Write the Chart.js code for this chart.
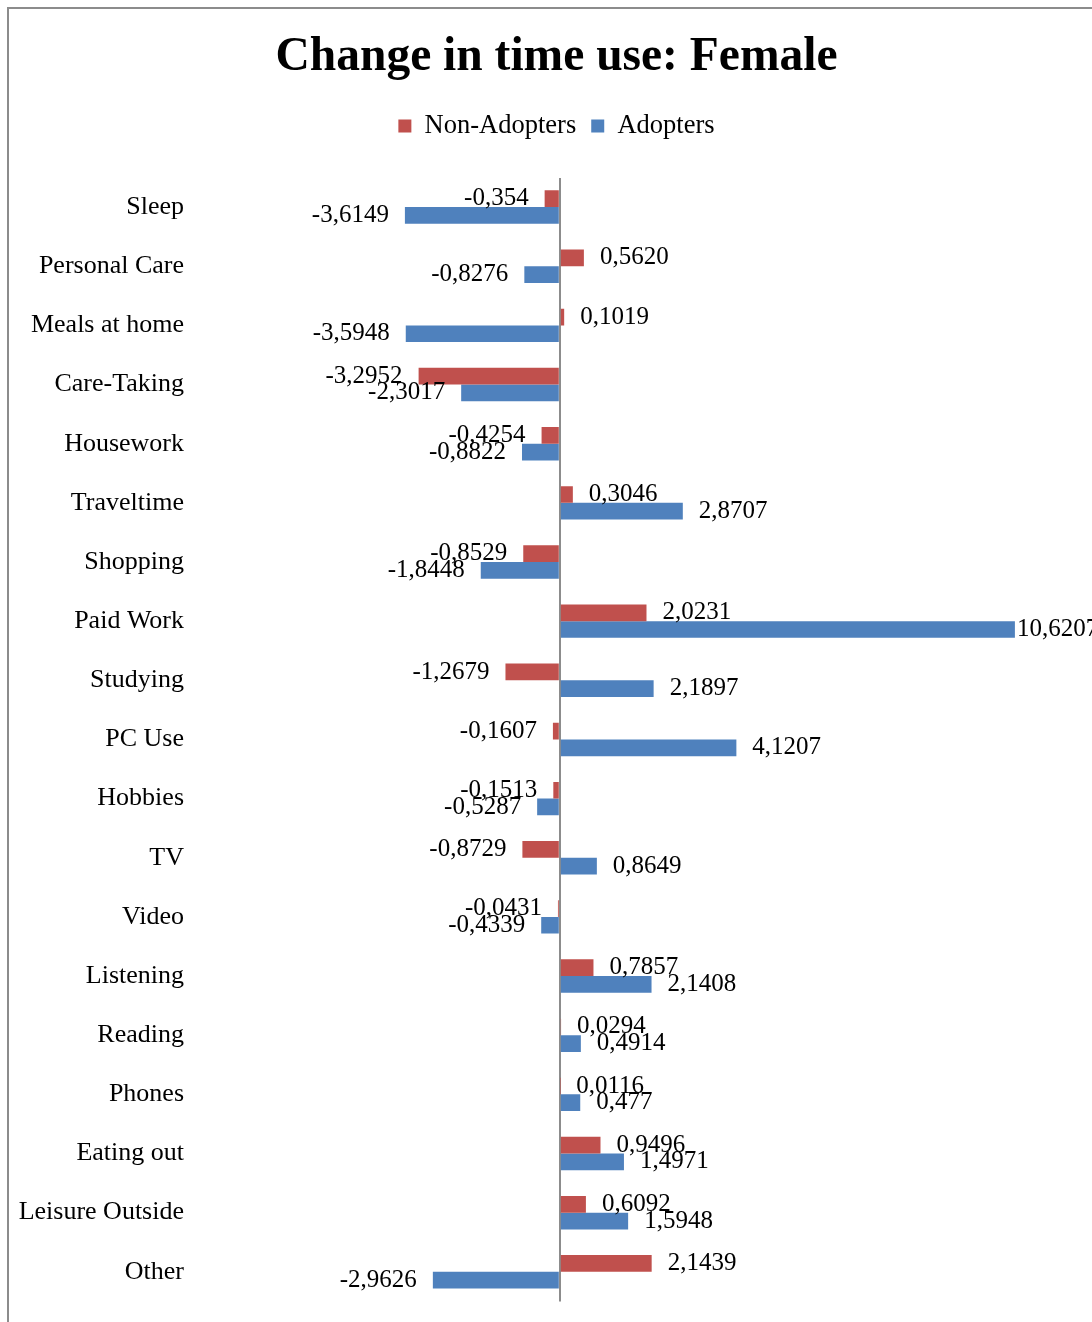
<!DOCTYPE html>
<html>
<head>
<meta charset="utf-8">
<script src="https://cdn.jsdelivr.net/npm/chart.js@4/dist/chart.umd.min.js"></script>
<style>
  html, body { margin: 0; padding: 0; background: #fff; overflow: hidden; }
  #frame {
    position: absolute; left: 7px; top: 7px;
    width: 1096px; height: 1350px;
    border-left: 2px solid #8c8c8c; border-top: 2px solid #8c8c8c;
  }
  #chart { display: block; }
</style>
</head>
<body>
<div id="frame"><canvas id="chart" width="1096" height="1341"></canvas></div>
<script>
const categories = [
  'Sleep', 'Personal Care', 'Meals at home', 'Care-Taking', 'Housework',
  'Traveltime', 'Shopping', 'Paid Work', 'Studying', 'PC Use', 'Hobbies',
  'TV', 'Video', 'Listening', 'Reading', 'Phones', 'Eating out',
  'Leisure Outside', 'Other'
];

// Values as printed on the bars (comma decimal separator)
const nonAdoptersText = [
  '-0,354', '0,5620', '0,1019', '-3,2952', '-0,4254', '0,3046', '-0,8529',
  '2,0231', '-1,2679', '-0,1607', '-0,1513', '-0,8729', '-0,0431', '0,7857',
  '0,0294', '0,0116', '0,9496', '0,6092', '2,1439'
];
const adoptersText = [
  '-3,6149', '-0,8276', '-3,5948', '-2,3017', '-0,8822', '2,8707', '-1,8448',
  '10,6207', '2,1897', '4,1207', '-0,5287', '0,8649', '-0,4339', '2,1408',
  '0,4914', '0,477', '1,4971', '1,5948', '-2,9626'
];

const toNumber = s => parseFloat(s.replace(',', '.'));
const nonAdopters = nonAdoptersText.map(toNumber);
const adopters = adoptersText.map(toNumber);

const serif = "'Liberation Serif', 'DejaVu Serif', serif";

// Writes each bar's value just past the end of the bar
const valueLabels = {
  id: 'valueLabels',
  afterDatasetsDraw(chart) {
    const ctx = chart.ctx;
    const area = chart.chartArea;
    const texts = [nonAdoptersText, adoptersText];
    ctx.save();
    ctx.font = '25px ' + serif;
    ctx.fillStyle = '#000';
    ctx.textBaseline = 'middle';
    chart.data.datasets.forEach((ds, di) => {
      const meta = chart.getDatasetMeta(di);
      meta.data.forEach((bar, i) => {
        const v = ds.data[i];
        const txt = texts[di][i];
        const w = ctx.measureText(txt).width;
        let gap = 16;
        if (v < 0) {
          ctx.textAlign = 'right';
          ctx.fillText(txt, bar.x - gap, bar.y);
        } else {
          if (bar.x + gap + w > area.right) gap = 2;
          ctx.textAlign = 'left';
          ctx.fillText(txt, bar.x + gap, bar.y);
        }
      });
    });
    ctx.restore();
  }
};

new Chart(document.getElementById('chart'), {
  type: 'bar',
  data: {
    labels: categories,
    datasets: [
      { label: 'Non-Adopters', data: nonAdopters, backgroundColor: '#C0504D',
        categoryPercentage: 0.565, barPercentage: 1 },
      { label: 'Adopters', data: adopters, backgroundColor: '#4F81BD',
        categoryPercentage: 0.565, barPercentage: 1 }
    ]
  },
  options: {
    indexAxis: 'y',
    responsive: false,
    animation: false,
    layout: { padding: { left: 0, right: 1, top: 0, bottom: 22.5 } },
    plugins: {
      title: {
        display: true,
        text: 'Change in time use: Female',
        color: '#000',
        font: { family: serif, size: 47.5, weight: 'bold', lineHeight: 1.2 },
        padding: { top: 20, bottom: 11.75 }
      },
      legend: {
        display: true,
        position: 'top',
        labels: {
          color: '#000',
          boxWidth: 13,
          boxHeight: 13,
          padding: 15,
          font: { family: serif, size: 26.5 }
        }
      },
      tooltip: { enabled: false }
    },
    scales: {
      x: {
        position: 'top',
        min: -8,
        max: 12.7,
        ticks: { display: false, stepSize: 2 },
        border: { display: false },
        grid: {
          drawTicks: false,
          lineWidth: 2,
          color: c => (c.tick && c.tick.value === 0) ? '#8c8c8c' : 'rgba(0,0,0,0)'
        },
        afterFit: s => { s.height = 28.25; }
      },
      y: {
        ticks: {
          color: '#000',
          padding: 33,
          font: { family: serif, size: 26 }
        },
        border: { display: false },
        grid: { display: false, drawTicks: false },
        afterFit: s => { s.width = 208; }
      }
    }
  },
  plugins: [valueLabels]
});
</script>
</body>
</html>
